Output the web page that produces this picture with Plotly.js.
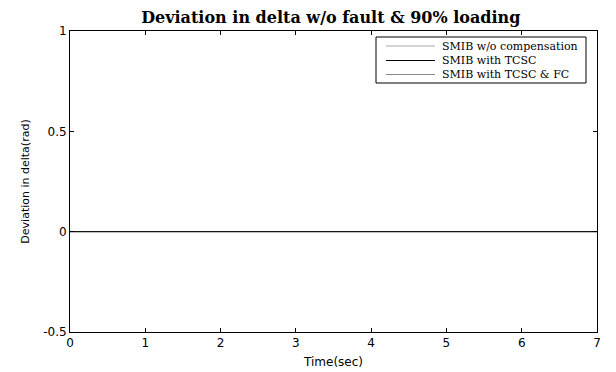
<!DOCTYPE html>
<html>
<head>
<meta charset="utf-8">
<script src="https://cdn.plot.ly/plotly-3.0.1.min.js"></script>
<style>html,body{margin:0;padding:0;background:#fff;}#chart{width:616px;height:372px;}</style>
</head>
<body>
<div id="chart"></div>
<script>
const time = [0, 1, 2, 3, 4, 5, 6, 7];
const devNoComp = [0, 0, 0, 0, 0, 0, 0, 0];
const devTCSC = [0, 0, 0, 0, 0, 0, 0, 0];
const devTCSCFC = [0, 0, 0, 0, 0, 0, 0, 0];
const seriesNames = ['SMIB w/o compensation', 'SMIB with TCSC', 'SMIB with TCSC & FC'];
const seriesColors = ['#a8a8a8', '#000000', '#888888'];
const xTicks = [0, 1, 2, 3, 4, 5, 6, 7];
const yTicks = [-0.5, 0, 0.5, 1];
const yTickText = ['-0.5', '0', '0.5', '1'];

const seriesValues = [devNoComp, devTCSC, devTCSCFC];
// draw order: grey series first, black last on top of the first, grey FC last? keep black visible
const drawOrder = [0, 2, 1];
const traces = drawOrder.map(i => ({
  x: time, y: seriesValues[i], name: seriesNames[i], mode: 'lines',
  line: {color: seriesColors[i], width: 1}, showlegend: false
}));

const sans = 'DejaVu Sans, Arial, sans-serif';
const serif = 'DejaVu Serif, Times New Roman, serif';

// legend box built as layout decoration (paper coordinates)
const M = {l: 70, r: 19, t: 31, b: 40};
const W = 616, H = 372;
const pw = W - M.l - M.r, ph = H - M.t - M.b;
const px = v => (v - M.l) / pw;
const py = v => 1 - (v - M.t) / ph;
const legBox = {left: 376, right: 586, top: 37, bottom: 83};
const legRowY = [46, 60.5, 74.5];
const legLine = {x0: 386, x1: 435, text: 440};

const shapes = [{
  type: 'rect', xref: 'paper', yref: 'paper',
  x0: px(legBox.left), x1: px(legBox.right), y0: py(legBox.bottom), y1: py(legBox.top),
  line: {color: '#000', width: 1}, fillcolor: '#fff', layer: 'above'
}];
const annotations = [];
seriesNames.forEach((name, i) => {
  shapes.push({type: 'line', xref: 'paper', yref: 'paper',
    x0: px(legLine.x0), x1: px(legLine.x1), y0: py(legRowY[i]), y1: py(legRowY[i]),
    line: {color: seriesColors[i], width: 1}, layer: 'above'});
  annotations.push({xref: 'paper', yref: 'paper', x: px(legLine.text), y: py(legRowY[i]),
    xanchor: 'left', yanchor: 'middle', showarrow: false, text: name,
    font: {family: serif, size: 11, color: '#000'}});
});

const axisCommon = {
  showline: true, linecolor: '#000', linewidth: 1, mirror: 'ticks',
  ticks: 'inside', ticklen: 4, tickcolor: '#000', tickwidth: 1,
  showgrid: false, zeroline: false,
  tickfont: {family: sans, size: 12, color: '#000'}
};

const layout = {
  width: W, height: H,
  margin: M,
  paper_bgcolor: '#fff', plot_bgcolor: '#fff',
  title: {text: '<b>Deviation in delta w/o fault & 90% loading</b>',
    font: {family: serif, size: 16, color: '#000'},
    x: 0.537, xanchor: 'center', y: 0.953, yanchor: 'middle'},
  xaxis: Object.assign({}, axisCommon, {range: [0, 7], tickvals: xTicks,
    title: {text: 'Time(sec)', font: {family: sans, size: 12, color: '#000'}, standoff: 8}}),
  yaxis: Object.assign({}, axisCommon, {range: [-0.5, 1], tickvals: yTicks, ticktext: yTickText,
    title: {text: 'Deviation in delta(rad)', font: {family: sans, size: 11, color: '#000'}, standoff: 11}}),
  showlegend: false,
  shapes: shapes,
  annotations: annotations
};

Plotly.newPlot('chart', traces, layout, {displayModeBar: false, staticPlot: true});
</script>
</body>
</html>
